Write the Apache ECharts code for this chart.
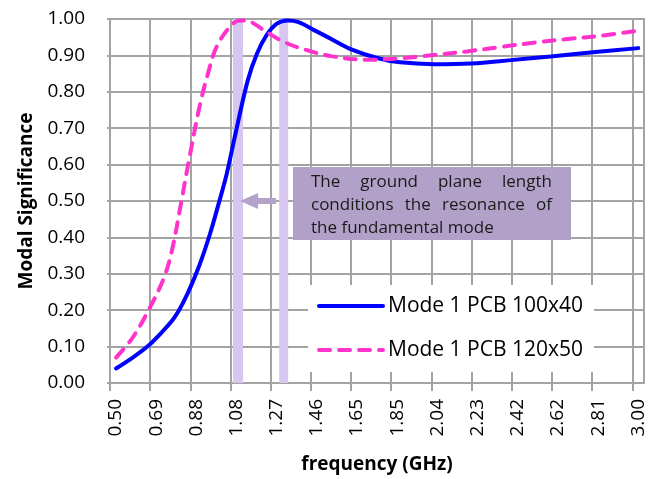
<!DOCTYPE html>
<html>
<head>
<meta charset="utf-8">
<script src="https://cdn.jsdelivr.net/npm/echarts@6/dist/echarts.min.js"></script>
<style>
html,body{margin:0;padding:0;background:#fff;}
#chart{width:648px;height:479px;}
</style>
</head>
<body>
<div id="chart"></div>
<script>
// ---------------- data ----------------
const seriesNames = ['Mode 1 PCB 100x40', 'Mode 1 PCB 120x50'];

const freqBlue = [0.50, 0.58, 0.65, 0.72, 0.78, 0.84, 0.90, 0.95, 0.99, 1.03, 1.07, 1.13, 1.175, 1.22, 1.27, 1.32, 1.37, 1.46, 1.53, 1.62, 1.75, 1.86, 2.02, 2.20, 2.39, 2.58, 2.77, 3.00];
const sigBlue  = [0.040, 0.070, 0.100, 0.140, 0.180, 0.243, 0.325, 0.410, 0.490, 0.575, 0.680, 0.830, 0.905, 0.955, 0.987, 0.996, 0.992, 0.966, 0.945, 0.918, 0.893, 0.881, 0.876, 0.878, 0.887, 0.897, 0.908, 0.920];

const freqPink = [0.50, 0.58, 0.66, 0.73, 0.77, 0.81, 0.85, 0.90, 0.94, 0.98, 1.04, 1.09, 1.14, 1.20, 1.30, 1.41, 1.53, 1.70, 1.86, 2.02, 2.18, 2.34, 2.50, 2.66, 2.82, 3.00];
const sigPink  = [0.070, 0.125, 0.205, 0.290, 0.370, 0.490, 0.615, 0.760, 0.850, 0.922, 0.975, 0.996, 0.993, 0.972, 0.938, 0.915, 0.898, 0.888, 0.892, 0.901, 0.911, 0.923, 0.935, 0.945, 0.954, 0.968];

const xTickLabels = ['0.50','0.69','0.88','1.08','1.27','1.46','1.65','1.85','2.04','2.23','2.42','2.62','2.81','3.00'];
const yTickLabels = ['0.00','0.10','0.20','0.30','0.40','0.50','0.60','0.70','0.80','0.90','1.00'];

const resonanceBands = [[1.060, 1.108], [1.281, 1.324]];   // GHz
const arrowFreq = [1.266, 1.094];                           // tail, tip (GHz)
const arrowSig = 0.50;
const noteLines = [['The', 'ground', 'plane', 'length'], ['conditions', 'the', 'resonance', 'of'], ['the fundamental mode']];

// ---------------- layout helpers ----------------
const FONT = '"Open Sans", "Noto Sans", sans-serif';
const GRID = '#a3a3a3';
const xFirst = parseFloat(xTickLabels[0]);
const xLast = parseFloat(xTickLabels[xTickLabels.length - 1]);
const xStep = (xLast - xFirst) / (xTickLabels.length - 1);
const labelVals = xTickLabels.map((_, k) => xFirst + k * xStep);
const tickShift = 0.15 * xStep;
const tickVals = labelVals.map(v => v - tickShift);
const xMin = xFirst - tickShift;
const xMax = xLast + 0.142 * xStep;

const blueData = freqBlue.map((f, i) => [f, sigBlue[i]]);
const pinkData = freqPink.map((f, i) => [f, sigPink[i]]);

const chart = echarts.init(document.getElementById('chart'), null, {renderer: 'canvas'});

chart.setOption({
  animation: false,
  backgroundColor: '#ffffff',
  grid: {left: 110, right: 4, top: 19, bottom: 93, show: true, borderColor: GRID, borderWidth: 2, backgroundColor: 'transparent'},
  legend: {
    data: seriesNames,
    orient: 'vertical',
    left: 308, top: 285,
    padding: [8, 11, 9, 9],
    backgroundColor: '#ffffff',
    itemWidth: 64, itemHeight: 14, itemGap: 18,
    textStyle: {fontFamily: FONT, fontSize: 21, color: '#000', lineHeight: 26},
    itemStyle: {opacity: 0},
    lineStyle: {width: 4}
  },
  xAxis: {
    type: 'value', min: xMin, max: xMax,
    name: 'frequency (GHz)', nameLocation: 'middle', nameGap: 72,
    nameTextStyle: {fontFamily: FONT, fontSize: 19, fontWeight: 'bold', color: '#000'},
    axisLine: {show: true, lineStyle: {color: GRID, width: 2}},
    axisTick: {show: true, length: 8, customValues: tickVals, lineStyle: {color: GRID, width: 2}},
    axisLabel: {
      customValues: labelVals, rotate: 90, margin: 16,
      fontFamily: FONT, fontSize: 19, color: '#000',
      formatter: v => {
        let best = 0;
        labelVals.forEach((lv, k) => { if (Math.abs(lv - v) < Math.abs(labelVals[best] - v)) best = k; });
        return xTickLabels[best];
      }
    },
    splitLine: {show: true, lineStyle: {color: GRID, width: 2}}
  },
  yAxis: {
    type: 'value', min: 0, max: 1, interval: 0.1,
    name: 'Modal Significance', nameLocation: 'middle', nameGap: 74, nameRotate: 90,
    nameTextStyle: {fontFamily: FONT, fontSize: 19, fontWeight: 'bold', color: '#000'},
    axisLine: {show: true, lineStyle: {color: GRID, width: 2}},
    axisTick: {show: true, length: 3, lineStyle: {color: GRID, width: 2}},
    axisLabel: {
      margin: 25, fontFamily: FONT, fontSize: 19, color: '#000',
      formatter: v => yTickLabels[Math.round(v * 10)]
    },
    splitLine: {show: true, lineStyle: {color: GRID, width: 2}}
  },
  series: [
    {
      name: 'bands', type: 'line', data: [], z: 1, silent: true,
      markArea: {
        silent: true,
        itemStyle: {color: '#d6c6f0'},
        data: resonanceBands.map(b => [{xAxis: b[0], yAxis: 0}, {xAxis: b[1], yAxis: 1}])
      }
    },
    {
      name: seriesNames[0], type: 'line', data: blueData, smooth: 0.35,
      showSymbol: false, symbol: 'none', z: 3,
      lineStyle: {color: '#0000ff', width: 4, cap: 'round'},
      itemStyle: {color: '#0000ff'}
    },
    {
      name: seriesNames[1], type: 'line', data: pinkData, smooth: 0.35,
      showSymbol: false, symbol: 'none', z: 4,
      lineStyle: {color: '#ff33cc', width: 4, type: [11, 9], cap: 'round'},
      itemStyle: {color: '#ff33cc'}
    }
  ]
});

// ---------------- annotations ----------------
const noteFont = '17px ' + FONT;
const cv = document.createElement('canvas');
const ctx = cv.getContext('2d');
ctx.font = noteFont;
const measure = t => ctx.measureText(t).width;

const box = {x: 293, y: 167, w: 278, h: 73};
const textLeft = 311, textRight = 552, lineTop = 182, lineH = 23;
const els = [];
els.push({type: 'rect', z: 10, shape: {x: box.x, y: box.y, width: box.w, height: box.h}, style: {fill: '#b1a0c7'}});
noteLines.forEach((words, i) => {
  const y = lineTop + i * lineH;
  if (words.length > 1) {
    const total = words.reduce((s, w) => s + measure(w), 0);
    const gap = (textRight - textLeft - total) / (words.length - 1);
    let x = textLeft;
    words.forEach(w => {
      els.push({type: 'text', z: 11, x: x, y: y, style: {text: w, font: noteFont, fill: '#1a1a1a', verticalAlign: 'middle', align: 'left'}});
      x += measure(w) + gap;
    });
  } else {
    els.push({type: 'text', z: 11, x: textLeft, y: y, style: {text: words[0], font: noteFont, fill: '#1a1a1a', verticalAlign: 'middle', align: 'left'}});
  }
});

const pTail = chart.convertToPixel({gridIndex: 0}, [arrowFreq[0], arrowSig]);
const pTip = chart.convertToPixel({gridIndex: 0}, [arrowFreq[1], arrowSig]);
const ay = pTip[1], xt = pTip[0], xb = pTail[0], hl = 18, hh = 8, sh = 3;
els.push({type: 'polygon', z: 10, shape: {points: [[xt, ay], [xt + hl, ay - hh], [xt + hl, ay - sh], [xb, ay - sh], [xb, ay + sh], [xt + hl, ay + sh], [xt + hl, ay + hh]]}, style: {fill: '#b3a2c9'}});

chart.setOption({graphic: {elements: els}});
</script>
</body>
</html>
